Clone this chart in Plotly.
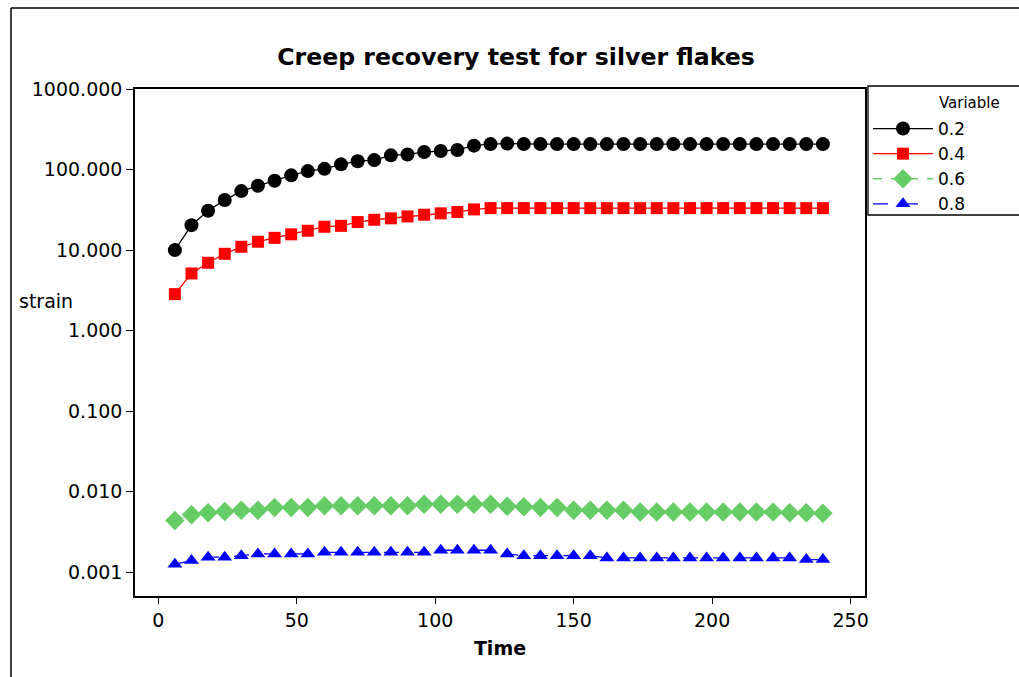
import plotly.graph_objects as go

time = [6 * k for k in range(1, 41)]

s02 = [10, 20.4, 30.8, 41.8, 54, 63, 72.6, 84.7, 95.7, 102, 116, 127, 131, 150, 154, 165, 170, 175, 198, 207,
       210, 207, 207, 207, 207, 207, 207, 207, 207, 207, 207, 207, 207, 207, 207, 207, 207, 207, 207, 207]
s04 = [2.84, 5.13, 6.96, 9.0, 11.0, 12.7, 14.2, 15.7, 17.4, 19.5, 20.0, 22.3, 23.8, 24.8, 26.2, 27.5, 28.6, 29.7, 32.0, 33.2,
       33.2, 33.2, 33.2, 33.2, 33.2, 33.2, 33.2, 33.2, 33.2, 33.2, 33.2, 33.2, 33.2, 33.2, 33.2, 33.2, 33.2, 33.2, 33.2, 33.2]
s06 = [0.0044, 0.0052, 0.0055, 0.0057, 0.0059, 0.0059, 0.0064, 0.0064, 0.0064, 0.0067,
       0.0067, 0.0067, 0.0067, 0.0067, 0.0067, 0.0070, 0.0070, 0.0070, 0.0070, 0.0070,
       0.0066, 0.0065, 0.0064, 0.0064, 0.0059, 0.0059, 0.0059, 0.0059, 0.0056, 0.0056,
       0.0056, 0.0056, 0.0056, 0.0056, 0.0056, 0.0056, 0.0056, 0.0055, 0.0055, 0.0054]
s08 = [0.00126, 0.00140, 0.00154, 0.00154, 0.00161, 0.00169, 0.00169, 0.00169, 0.00169, 0.00177,
       0.00177, 0.00177, 0.00177, 0.00177, 0.00177, 0.00177, 0.00188, 0.00188, 0.00188, 0.00188,
       0.00169, 0.00161, 0.00161, 0.00161, 0.00161, 0.00161, 0.00151, 0.00151, 0.00151, 0.00151,
       0.00151, 0.00151, 0.00151, 0.00151, 0.00151, 0.00151, 0.00151, 0.00151, 0.00144, 0.00144]

series_names = ["0.2", "0.4", "0.6", "0.8"]
legend_title = "Variable"
y_tickvals = [0.001, 0.01, 0.1, 1, 10, 100, 1000]
y_ticktext = ["0.001", "0.010", "0.100", "1.000", "10.000", "100.000", "1000.000"]
x_tickvals = [0, 50, 100, 150, 200, 250]

FONT = "DejaVu Sans"

fig = go.Figure()
styles = [
    dict(color="#000000", symbol="circle", size=14, dash="solid"),
    dict(color="#FF0000", symbol="square", size=12, dash="solid"),
    dict(color="#66CC66", symbol="diamond", size=15, dash="dash"),
    dict(color="#0000FF", symbol="triangle-up", size=13, dash="longdash"),
]
for name, ys, st in zip(series_names, [s02, s04, s06, s08], styles):
    fig.add_trace(go.Scatter(
        x=time, y=ys, name=name, mode="lines+markers",
        line=dict(color=st["color"], width=1.3, dash=st["dash"]),
        marker=dict(symbol=st["symbol"], size=st["size"], color=st["color"], line=dict(width=0)),
    ))

L, R, T, B = 135, 865, 89, 596
W, H = 1019, 677
def px(x):
    return (x - L) / (R - L)
def py(y):
    return (B - y) / (B - T)

fig.update_layout(
    width=W, height=H,
    margin=dict(l=L, r=W - R, t=T, b=H - B),
    paper_bgcolor="white", plot_bgcolor="white",
    font=dict(family=FONT, size=18, color="black"),
    title=dict(text="<b>Creep recovery test for silver flakes</b>", x=516 / W, xanchor="center",
               xref="container", y=1 - 57 / H, yanchor="middle",
               font=dict(family=FONT, size=23.6, color="black")),
    xaxis=dict(range=[-8.4, 255.2], tickvals=x_tickvals, ticks="outside", ticklen=6, tickwidth=1.3,
               tickcolor="black", showgrid=False, zeroline=False, showline=True, linecolor="black",
               linewidth=1.5, mirror=True, tickfont=dict(size=19),
               title=dict(text="<b>Time</b>", font=dict(size=19), standoff=12)),
    yaxis=dict(type="log", range=[-3.294, 3.0], tickvals=y_tickvals, ticktext=y_ticktext,
               ticks="outside", ticklen=7, tickwidth=1.3, tickcolor="black", showgrid=False,
               zeroline=False, showline=True, linecolor="black", linewidth=1.5, mirror=True,
               tickfont=dict(size=19)),
    legend=dict(x=px(868), y=py(111), xanchor="left", yanchor="top",
                borderwidth=0, bgcolor="rgba(0,0,0,0)",
                font=dict(size=17), tracegroupgap=0, itemwidth=60),
    showlegend=True,
)

# legend frame and title
fig.add_shape(type="rect", xref="paper", yref="paper", x0=px(868), x1=px(1030), y0=py(86), y1=py(215),
              line=dict(color="black", width=1.3), fillcolor="rgba(0,0,0,0)", layer="above")
fig.add_annotation(text=legend_title, x=px(970), y=py(103), xref="paper", yref="paper",
                   xanchor="center", yanchor="middle", showarrow=False, font=dict(size=15))

fig.add_annotation(text="strain", x=px(17), y=py(301), xref="paper", yref="paper",
                   xanchor="left", yanchor="middle", showarrow=False, font=dict(size=19))

# outer frame lines (left and top)
fig.add_shape(type="line", xref="paper", yref="paper", x0=px(11), x1=px(11), y0=py(8), y1=py(700),
              line=dict(color="black", width=1.5))
fig.add_shape(type="line", xref="paper", yref="paper", x0=px(11), x1=px(1040), y0=py(8), y1=py(8),
              line=dict(color="black", width=1.5))

fig.write_html("out.html")
